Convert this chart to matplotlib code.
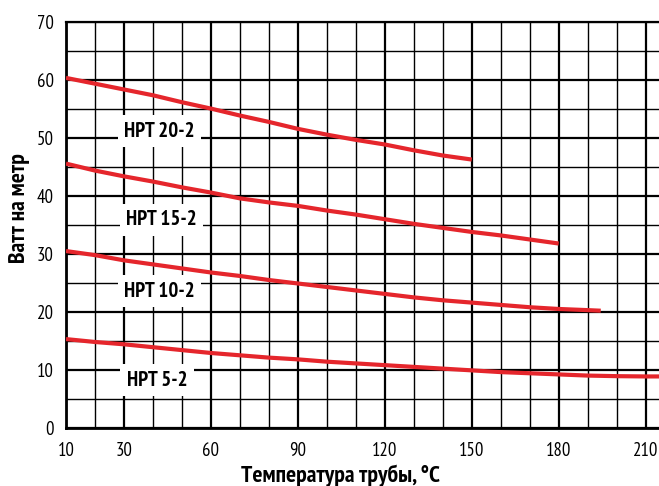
import matplotlib
matplotlib.use('Agg')
import matplotlib.pyplot as plt
from matplotlib import font_manager
from matplotlib.ticker import MultipleLocator, FixedLocator

# данные
temp_20 = [10, 20, 30, 40, 50, 60, 70, 80, 90, 100, 110, 120, 130, 140, 150]
watt_20 = [60.4, 59.4, 58.4, 57.4, 56.2, 55.1, 53.9, 52.8, 51.6, 50.6, 49.7, 48.9, 47.9, 47.0, 46.3]

temp_15 = [10, 20, 30, 40, 50, 60, 70, 80, 90, 100, 110, 120, 130, 140, 150, 160, 170, 180]
watt_15 = [45.6, 44.4, 43.4, 42.5, 41.5, 40.6, 39.6, 38.9, 38.3, 37.5, 36.8, 36.0, 35.2, 34.5, 33.8, 33.2, 32.5, 31.8]

temp_10 = [10, 20, 30, 40, 50, 60, 70, 80, 90, 100, 110, 120, 130, 140, 150, 160, 170, 180, 190, 194.5]
watt_10 = [30.5, 29.8, 28.9, 28.2, 27.5, 26.8, 26.2, 25.5, 24.9, 24.3, 23.7, 23.1, 22.5, 22.0, 21.6, 21.2, 20.8, 20.5, 20.3, 20.2]

temp_5 = [10, 20, 30, 40, 50, 60, 70, 80, 90, 100, 110, 120, 130, 140, 150, 160, 170, 180, 190, 200, 210, 215]
watt_5 = [15.3, 14.8, 14.4, 13.9, 13.4, 12.9, 12.5, 12.1, 11.8, 11.4, 11.1, 10.8, 10.5, 10.2, 9.9, 9.6, 9.4, 9.2, 9.0, 8.9, 8.85, 8.85]

cable_names = ["HPT 20-2", "HPT 15-2", "HPT 10-2", "HPT 5-2"]
label_x = [42.3, 42.9, 42.3, 41.4]
label_y = [51.2, 35.9, 23.6, 8.2]

x_ticks = [10, 30, 60, 90, 120, 150, 180, 210]
y_ticks = [0, 10, 20, 30, 40, 50, 60, 70]

# узкий шрифт с кириллицей, если есть
names = {f.name for f in font_manager.fontManager.ttflist}
fam = 'DejaVu Sans'
for cand in ['PT Sans Narrow', 'Fira Sans Extra Condensed', 'Fira Sans Condensed',
             'Roboto Condensed', 'Open Sans Condensed', 'Archivo Narrow']:
    if cand in names:
        fam = cand
        break
plt.rcParams['font.family'] = [fam, 'DejaVu Sans']

red = '#e5262c'

fig = plt.figure(figsize=(6.59, 4.86), dpi=100)
ax = fig.add_axes([66 / 659, 58.3 / 486, 593 / 659, 405.4 / 486])

ax.set_xlim(10, 214.6)
ax.set_ylim(0, 70)

ax.xaxis.set_major_locator(FixedLocator(x_ticks))
ax.xaxis.set_minor_locator(MultipleLocator(10))
ax.yaxis.set_major_locator(FixedLocator(y_ticks))
ax.yaxis.set_minor_locator(MultipleLocator(5))

ax.grid(which='major', color='black', linewidth=1.6)
ax.grid(which='minor', color='black', linewidth=1.0)
ax.set_axisbelow(True)

ax.tick_params(which='both', length=0)
ax.tick_params(axis='x', pad=10, labelsize=13.5)
ax.tick_params(axis='y', pad=9, labelsize=13.5)

for side in ['left', 'bottom']:
    ax.spines[side].set_linewidth(2)
ax.spines['top'].set_linewidth(1.6)
ax.spines['right'].set_visible(False)

for t, w in [(temp_20, watt_20), (temp_15, watt_15), (temp_10, watt_10), (temp_5, watt_5)]:
    ax.plot(t, w, color=red, linewidth=3, solid_capstyle='butt', zorder=3)

for name, lx, ly in zip(cable_names, label_x, label_y):
    ax.text(lx, ly, name, ha='center', va='center', fontsize=15, fontweight='bold', zorder=4,
            bbox=dict(facecolor='white', edgecolor='none', boxstyle='square,pad=0.3'))

fig.text(20 / 659, 1 - 208 / 486, "Ватт на метр", rotation=90, ha='center', va='center',
         fontsize=17, fontweight='bold')
fig.text(340 / 659, 1 - 482 / 486, "Температура трубы, °C", ha='center', va='baseline',
         fontsize=17, fontweight='bold')

fig.savefig('out.png', dpi=100)
